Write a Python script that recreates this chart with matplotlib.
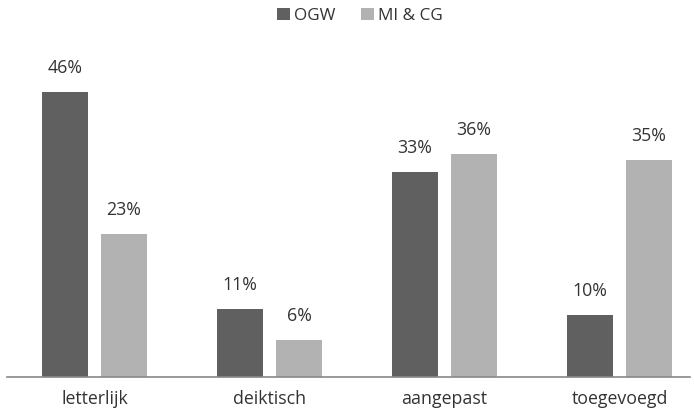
import matplotlib.pyplot as plt
import numpy as np

categories = ['letterlijk', 'deiktisch', 'aangepast', 'toegevoegd']
ogw = [46, 11, 33, 10]
mi_cg = [23, 6, 36, 35]
series_names = ['OGW', 'MI & CG']

dark = '#606060'
light = '#b2b2b2'
text_col = '#333333'

plt.rcParams['font.family'] = ['Open Sans', 'DejaVu Sans']

fig = plt.figure(figsize=(6.94, 4.16), dpi=100)
ax = fig.add_axes([7 / 694, 39 / 416, 683 / 694, 310 / 416])

x = np.arange(len(categories))
w = 0.263
off = (w + 0.074) / 2
b1 = ax.bar(x - off, ogw, w, color=dark, label=series_names[0])
b2 = ax.bar(x + off, mi_cg, w, color=light, label=series_names[1])

for bars, vals in ((b1, ogw), (b2, mi_cg)):
    for r, v in zip(bars, vals):
        ax.annotate(f'{v}%', (r.get_x() + r.get_width() / 2, v),
                    xytext=(0, 11), textcoords='offset points',
                    ha='center', va='bottom', fontsize=12.8, color=text_col)

ax.set_xlim(-0.5, 3.403)
ax.set_ylim(0, 50)
ax.set_xticks(x)
ax.set_xticklabels(categories, fontsize=12.8, color=text_col)
ax.tick_params(axis='x', length=0, pad=9)
ax.set_yticks([])
for s in ['top', 'right', 'left']:
    ax.spines[s].set_visible(False)
ax.spines['bottom'].set_color('#888888')
ax.spines['bottom'].set_linewidth(1.2)

fig.legend(handles=[b1, b2], loc='center', bbox_to_anchor=(360 / 694, 1 - 16 / 416),
           ncol=2, frameon=False, fontsize=12.3, handlelength=0.75, handleheight=0.75,
           handletextpad=0.25, columnspacing=1.5, labelcolor=text_col)

fig.savefig('out.png', dpi=100)
